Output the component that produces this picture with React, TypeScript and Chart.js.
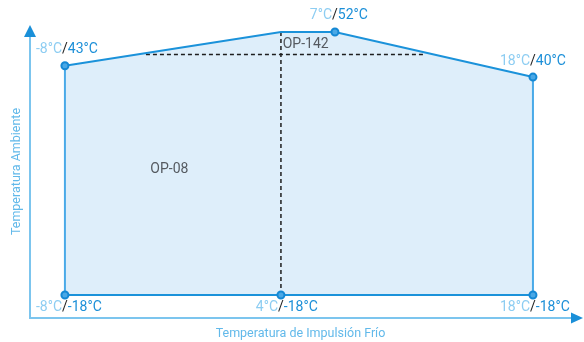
import React, { useEffect, useRef } from 'react';
import { Chart, registerables } from 'chart.js';

Chart.register(...registerables);

// Envelope outline (closed path)
const outlineX = [-8, -8, 4, 7, 18, 18, 4, -8];
const outlineY = [-18, 43, 52, 52, 40, -18, -18, -18];
// Upper boundary used for the filled area (down to -18)
const topX = [-8, 4, 7, 18];
const topY = [43, 52, 52, 40];
const fillBase = -18;
// Labelled corner markers
const markerX = [-8, 7, 18, -8, 4, 18];
const markerY = [43, 52, 40, -18, -18, -18];
const markerAbove = [true, true, true, false, false, false];
// Dashed divider lines
const vDashX = [4, 4];
const vDashY = [52, -18];
const hDashX = [-3.5, 12];
const hDashY = [46, 46];
// Zone names
const zoneNames = ['OP-08', 'OP-142'];
const zoneX = [-2.2, 4.1];
const zoneY = [15.5, 48.8];
const zoneAlign: CanvasTextAlign[] = ['center', 'left'];
// Axis titles
const xTitle = 'Temperatura de Impulsión Frío';
const yTitle = 'Temperatura Ambiente';

const FONT = 'Roboto, "Noto Sans", sans-serif';

const pts = (xs: number[], ys: number[]) => xs.map((x, i) => ({ x, y: ys[i] }));

const decorPlugin = {
  id: 'decor',
  beforeDatasetsDraw(chart: any) {
    const { ctx, chartArea } = chart;
    const { left, right, top, bottom } = chartArea;
    ctx.save();
    ctx.strokeStyle = '#7cc5ee';
    ctx.lineWidth = 2;
    ctx.beginPath();
    ctx.moveTo(left, top + 10);
    ctx.lineTo(left, bottom);
    ctx.lineTo(right - 10, bottom);
    ctx.stroke();
    ctx.fillStyle = '#1a8fd8';
    ctx.beginPath();
    ctx.moveTo(left, top);
    ctx.lineTo(left - 6, top + 12);
    ctx.lineTo(left + 6, top + 12);
    ctx.closePath();
    ctx.fill();
    ctx.beginPath();
    ctx.moveTo(right, bottom);
    ctx.lineTo(right - 12, bottom - 5.5);
    ctx.lineTo(right - 12, bottom + 5.5);
    ctx.closePath();
    ctx.fill();
    ctx.fillStyle = '#62b9ea';
    ctx.font = `12.5px ${FONT}`;
    ctx.textAlign = 'center';
    ctx.textBaseline = 'middle';
    ctx.fillText(xTitle, (left + right) / 2 - 6, bottom + 16);
    ctx.translate(left - 13, (top + bottom) / 2);
    ctx.rotate(-Math.PI / 2);
    ctx.fillText(yTitle, 0, 0);
    ctx.restore();
  },
  afterDatasetsDraw(chart: any) {
    const { ctx, scales } = chart;
    const xs = scales.x;
    const ys = scales.y;
    ctx.save();
    ctx.font = `14px ${FONT}`;
    ctx.textBaseline = 'middle';
    markerX.forEach((x, i) => {
      const px = xs.getPixelForValue(x);
      const py = ys.getPixelForValue(markerY[i]);
      const ty = markerAbove[i] ? py - 16 : py + 12;
      const sw = ctx.measureText('/').width;
      ctx.textAlign = 'right';
      ctx.fillStyle = '#8dcdf2';
      ctx.fillText(`${x}°C`, px - sw / 2, ty);
      ctx.textAlign = 'center';
      ctx.fillStyle = '#222222';
      ctx.fillText('/', px, ty);
      ctx.textAlign = 'left';
      ctx.fillStyle = '#1b8fd8';
      ctx.fillText(`${markerY[i]}°C`, px + sw / 2, ty);
    });
    ctx.fillStyle = '#555a60';
    zoneNames.forEach((n, i) => {
      ctx.textAlign = zoneAlign[i];
      ctx.fillText(n, xs.getPixelForValue(zoneX[i]), ys.getPixelForValue(zoneY[i]));
    });
    ctx.restore();
  },
};

export default function App() {
  const ref = useRef<HTMLCanvasElement>(null);
  useEffect(() => {
    document.body.style.margin = '0';
    document.body.style.overflow = 'hidden';
    const chart = new Chart(ref.current!, {
      type: 'scatter',
      data: {
        datasets: [
          {
            type: 'line',
            data: pts(topX, topY),
            fill: { value: fillBase },
            backgroundColor: '#deeefa',
            borderColor: 'rgba(0,0,0,0)',
            borderWidth: 0,
            pointRadius: 0,
            order: 5,
          } as any,
          {
            data: pts(vDashX, vDashY),
            showLine: true,
            borderColor: '#1e1e1e',
            borderWidth: 1.5,
            borderDash: [4, 3],
            pointRadius: 0,
            order: 4,
          },
          {
            data: pts(hDashX, hDashY),
            showLine: true,
            borderColor: '#1e1e1e',
            borderWidth: 1.5,
            borderDash: [4, 3],
            pointRadius: 0,
            order: 4,
          },
          {
            data: pts(outlineX, outlineY),
            showLine: true,
            borderColor: '#1b92da',
            borderWidth: 2,
            pointRadius: 0,
            segment: {
              borderColor: (c: any) =>
                c.p0.parsed.x === c.p1.parsed.x ? '#4aaae8' : '#1b92da',
            },
            order: 3,
          },
          {
            data: pts(markerX, markerY),
            showLine: false,
            pointRadius: 3.5,
            pointBackgroundColor: '#4aa8e6',
            pointBorderColor: '#1588d4',
            pointBorderWidth: 2,
            order: 1,
          },
        ],
      },
      options: {
        responsive: false,
        maintainAspectRatio: false,
        devicePixelRatio: 1,
        animation: false,
        layout: { autoPadding: false, padding: { left: 30, right: 1, top: 25, bottom: 24 } },
        scales: {
          x: { type: 'linear', min: -9.94, max: 20.78, display: false },
          y: { type: 'linear', min: -24.12, max: 53.86, display: false },
        },
        plugins: {
          legend: { display: false },
          tooltip: { enabled: false },
        },
      },
      plugins: [decorPlugin],
    });
    return () => chart.destroy();
  }, []);
  return (
    <div style={{ position: 'absolute', left: 0, top: 0, width: 584, height: 342 }}>
      <canvas ref={ref} width={584} height={342} style={{ display: 'block' }} />
    </div>
  );
}
